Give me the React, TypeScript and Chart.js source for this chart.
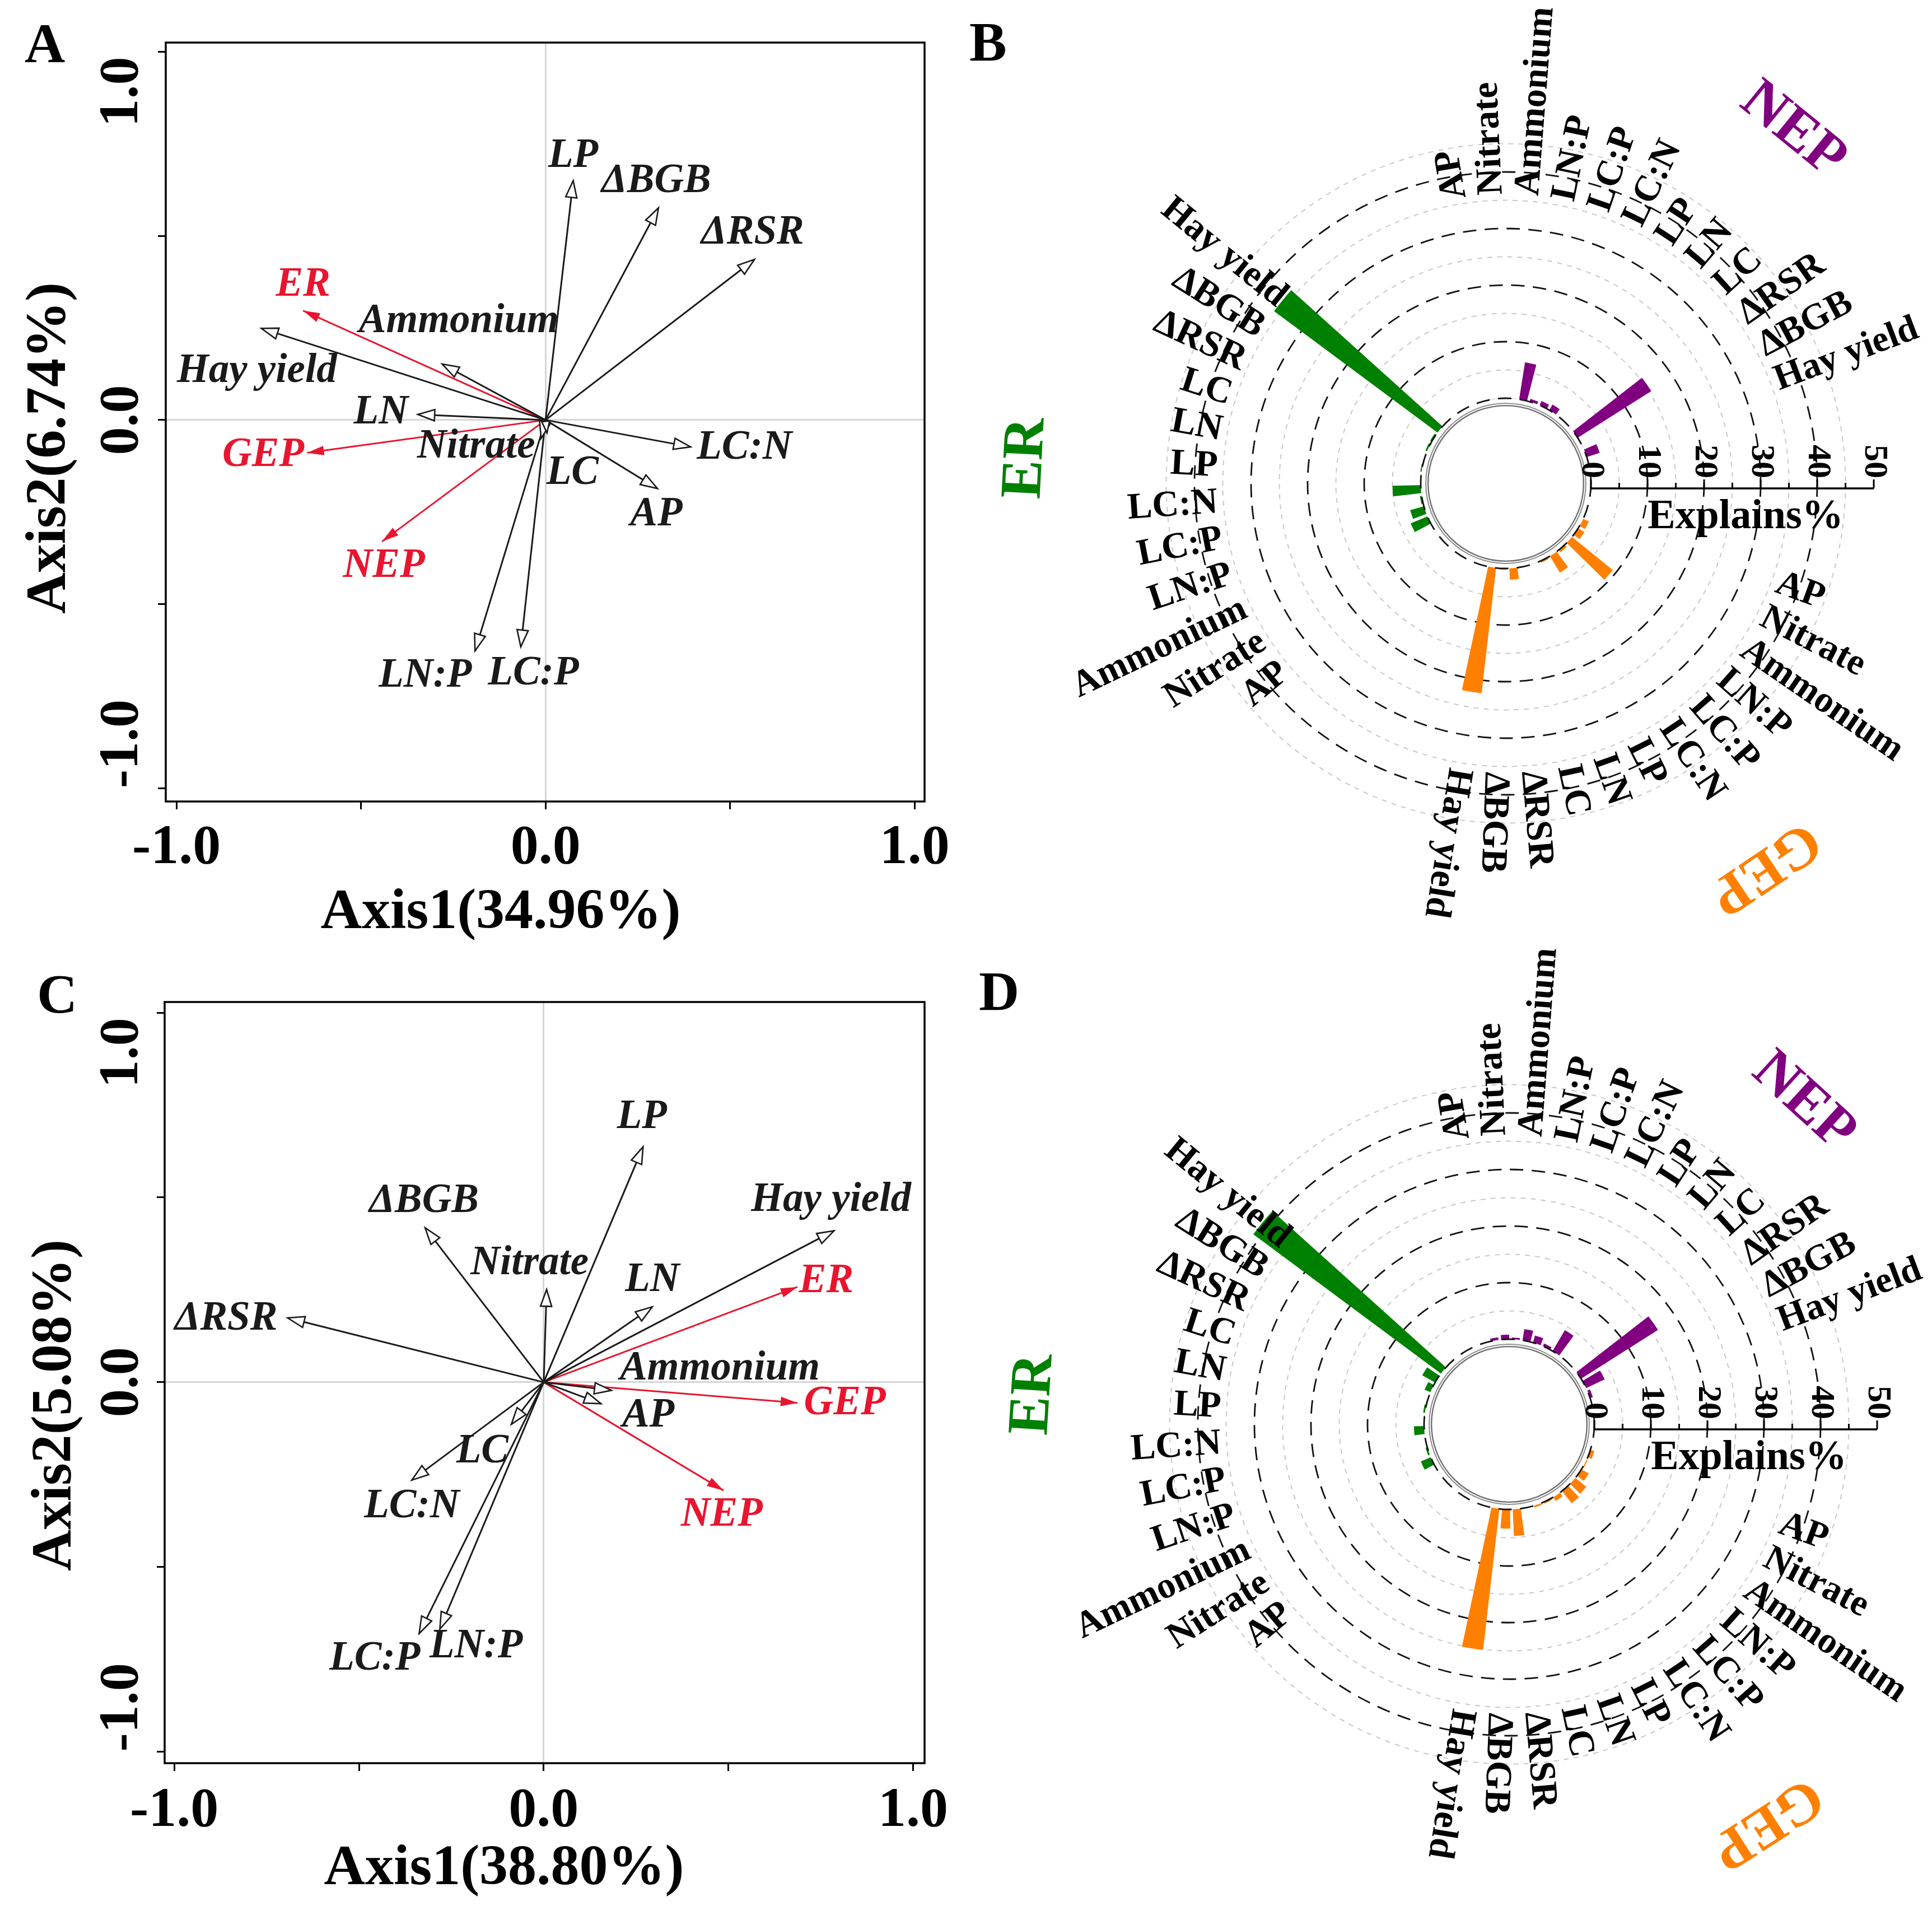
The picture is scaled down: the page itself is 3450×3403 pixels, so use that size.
import React, { useEffect, useRef } from 'react';
import { Chart, registerables } from 'chart.js';

Chart.register(...registerables);

const SERIF = '"Liberation Serif", "Times New Roman", serif';
const RED = '#e8152e';
const INK = '#1a1a1a';

// ---------------- Biplot (A, C) data ----------------
const AXIS_TICK_VALUES = [-1, -0.5, 0, 0.5, 1];
const AXIS_TICK_LABELS = ['-1.0', '', '0.0', '', '1.0'];

const A_ENV_NAMES = ['LP', 'ΔBGB', 'ΔRSR', 'Hay yield', 'Ammonium', 'LN', 'Nitrate', 'LC', 'LC:N', 'AP', 'LN:P', 'LC:P'];
const A_ENV_X = [0.075, 0.306, 0.566, -0.77, -0.28, -0.346, -0.012, 0.004, 0.393, 0.303, -0.191, -0.067];
const A_ENV_Y = [0.65, 0.576, 0.436, 0.249, 0.152, 0.015, -0.05, -0.035, -0.073, -0.186, -0.627, -0.616];
const A_RESP_NAMES = ['ER', 'GEP', 'NEP'];
const A_RESP_X = [-0.657, -0.646, -0.443];
const A_RESP_Y = [0.297, -0.089, -0.33];
const A_TITLES = ['Axis1(34.96%)', 'Axis2(6.74%)'];

const C_ENV_NAMES = ['LP', 'Hay yield', 'ΔBGB', 'Nitrate', 'LN', 'ΔRSR', 'Ammonium', 'AP', 'LC', 'LC:N', 'LC:P', 'LN:P'];
const C_ENV_X = [0.269, 0.786, -0.321, 0.008, 0.294, -0.693, 0.183, 0.155, -0.0875, -0.357, -0.337, -0.281];
const C_ENV_Y = [0.637, 0.41, 0.418, 0.251, 0.204, 0.174, -0.022, -0.058, -0.114, -0.265, -0.68, -0.668];
const C_RESP_NAMES = ['ER', 'GEP', 'NEP'];
const C_RESP_X = [0.687, 0.687, 0.487];
const C_RESP_Y = [0.258, -0.056, -0.293];
const C_TITLES = ['Axis1(38.80%)', 'Axis2(5.08%)'];

// label anchors (layout, data units) in the same order as the names
const A_ENV_LABEL_AT = [[0.075, 0.716], [0.3, 0.647], [0.561, 0.507], [-0.782, 0.132], [-0.235, 0.267], [-0.446, 0.02], [-0.188, -0.074], [0.073, -0.145], [0.539, -0.076], [0.3, -0.257], [-0.326, -0.695], [-0.033, -0.69]];
const A_RESP_LABEL_AT = [[-0.657, 0.366], [-0.765, -0.096], [-0.438, -0.398]];
const C_ENV_LABEL_AT = [[0.266, 0.716], [0.778, 0.492], [-0.324, 0.489], [-0.038, 0.321], [0.294, 0.275], [-0.86, 0.171], [0.477, 0.036], [0.283, -0.091], [-0.166, -0.189], [-0.357, -0.337], [-0.457, -0.749], [-0.183, -0.716]];
const C_RESP_LABEL_AT = [[0.765, 0.272], [0.815, -0.058], [0.482, -0.359]];

// ---------------- Circular (B, D) data ----------------
const VARIABLES = ['AP', 'Nitrate', 'Ammonium', 'LN:P', 'LC:P', 'LC:N', 'LP', 'LN', 'LC', 'ΔRSR', 'ΔBGB', 'Hay yield'];
const GROUPS = ['NEP', 'GEP', 'ER'];
const GROUP_COLORS = ['#800080', '#ff8000', '#008000'];

const B_NEP = [0, 0, 0, 6.6, 0.5, 0.8, 1.15, 0, 0, 15.4, 0, 2.4];
const B_GEP = [0, 1.1, 1.3, 9.3, 0.5, 3.4, 0.3, 0, 0, 2.0, 0.2, 22.3];
const B_ER = [0, 0, 3.2, 2.5, 0.3, 5.0, 0.1, 0.2, 0, 0.3, 0.3, 36.0];

const D_NEP = [0.45, 0.8, 0.3, 2.0, 1.3, 0.5, 4.3, 0, 0, 16.1, 3.6, 0.5];
const D_GEP = [0.75, 0.2, 1.5, 2.5, 2.75, 0.8, 0.3, 0.3, 0, 4.7, 3.4, 25.1];
const D_ER = [0, 0, 1.9, 0.3, 0, 1.8, 0, 0.3, 0, 1.1, 2.6, 41.3];

const RADIAL_TICKS = [0, 10, 20, 30, 40, 50];
const RING_VALUES = [5, 10, 15, 20, 25, 30, 35, 40, 45];

// circular layout
const BAR_DEG = 5.4;
const BAR_GAP_DEG = 1.8;
const GROUP_GAP_DEG = 35.4;
const START_ANGLE = -12.6;
const R_MIN = -15.05;
const R_MAX = 81.98;
const LABEL_RING = 36;
const CANVAS_S = 1960;

// ---------------- Biplot component ----------------
function makeBiplotPlugin(cfg: any) {
  return {
    id: 'biplotDecor',
    afterDatasetsDraw(chart: any) {
      const { ctx, chartArea: ca } = chart;
      const xs = chart.scales.x;
      const ys = chart.scales.y;
      ctx.save();
      const x0 = xs.getPixelForValue(0);
      const y0 = ys.getPixelForValue(0);
      const head = (vx: number, vy: number, color: string, open: boolean) => {
        const x1 = xs.getPixelForValue(vx);
        const y1 = ys.getPixelForValue(vy);
        const dx = x1 - x0;
        const dy = y1 - y0;
        const len = Math.hypot(dx, dy);
        if (len < 1) return;
        const ux = dx / len;
        const uy = dy / len;
        const hl = Math.min(30, len * 0.9);
        const hw = hl * (open ? 10 : 8.5) / 30;
        const bx = x1 - ux * hl;
        const by = y1 - uy * hl;
        ctx.beginPath();
        ctx.moveTo(x1, y1);
        ctx.lineTo(bx - uy * hw, by + ux * hw);
        ctx.lineTo(bx + uy * hw, by - ux * hw);
        ctx.closePath();
        ctx.setLineDash([]);
        if (open) {
          ctx.fillStyle = '#fff';
          ctx.fill();
          ctx.lineWidth = 2.6;
          ctx.strokeStyle = color;
          ctx.lineJoin = 'miter';
          ctx.stroke();
        } else {
          ctx.fillStyle = color;
          ctx.fill();
        }
      };
      cfg.envX.forEach((vx: number, i: number) => head(vx, cfg.envY[i], INK, true));
      cfg.respX.forEach((vx: number, i: number) => head(vx, cfg.respY[i], RED, false));

      ctx.textAlign = 'center';
      ctx.textBaseline = 'middle';
      ctx.font = `italic bold 73px ${SERIF}`;
      ctx.fillStyle = INK;
      cfg.envNames.forEach((n: string, i: number) => {
        const p = cfg.envLabelAt[i];
        ctx.fillText(n, xs.getPixelForValue(p[0]), ys.getPixelForValue(p[1]));
      });
      ctx.fillStyle = RED;
      cfg.respNames.forEach((n: string, i: number) => {
        const p = cfg.respLabelAt[i];
        ctx.fillText(n, xs.getPixelForValue(p[0]), ys.getPixelForValue(p[1]));
      });

      // frame
      ctx.lineWidth = 3.5;
      ctx.strokeStyle = '#000';
      ctx.strokeRect(ca.left, ca.top, ca.right - ca.left, ca.bottom - ca.top);

      // tick labels
      ctx.fillStyle = '#000';
      ctx.font = `bold 100px ${SERIF}`;
      ctx.textBaseline = 'middle';
      AXIS_TICK_VALUES.forEach((v, i) => {
        const lab = AXIS_TICK_LABELS[i];
        if (!lab) return;
        ctx.textAlign = 'center';
        ctx.fillText(lab, xs.getPixelForValue(v), cfg.xTickY);
        const py = ys.getPixelForValue(v);
        ctx.save();
        if (i === AXIS_TICK_VALUES.length - 1) {
          ctx.translate(cfg.yTickX, py + 9);
          ctx.textAlign = 'right';
        } else if (i === 0) {
          ctx.translate(cfg.yTickX, py);
          ctx.textAlign = 'left';
        } else {
          ctx.translate(cfg.yTickX, py);
          ctx.textAlign = 'center';
        }
        ctx.rotate(-Math.PI / 2);
        ctx.fillText(lab, 0, 0);
        ctx.restore();
      });

      // axis titles
      ctx.font = `bold 102px ${SERIF}`;
      ctx.textAlign = 'center';
      ctx.textBaseline = 'alphabetic';
      ctx.fillText(cfg.titles[0], cfg.xTitle[0], cfg.xTitle[1]);
      ctx.save();
      ctx.translate(cfg.yTitle[0], cfg.yTitle[1]);
      ctx.rotate(-Math.PI / 2);
      ctx.textBaseline = 'middle';
      ctx.fillText(cfg.titles[1], 0, 0);
      ctx.restore();

      // panel letter
      ctx.font = `bold 100px ${SERIF}`;
      ctx.textAlign = 'left';
      ctx.textBaseline = 'alphabetic';
      ctx.fillText(cfg.letter, cfg.letterPos[0], cfg.letterPos[1]);
      ctx.restore();
    },
  };
}

function BiplotPanel({ cfg }: { cfg: any }) {
  const ref = useRef<HTMLCanvasElement | null>(null);
  useEffect(() => {
    if (!ref.current) return;
    const datasets = [
      ...cfg.envNames.map((n: string, i: number) => ({
        label: n,
        data: [{ x: 0, y: 0 }, { x: cfg.envX[i], y: cfg.envY[i] }],
        showLine: true,
        borderColor: INK,
        borderWidth: 3,
        pointRadius: 0,
        pointHoverRadius: 0,
        fill: false,
      })),
      ...cfg.respNames.map((n: string, i: number) => ({
        label: n,
        data: [{ x: 0, y: 0 }, { x: cfg.respX[i], y: cfg.respY[i] }],
        showLine: true,
        borderColor: RED,
        borderWidth: 3,
        pointRadius: 0,
        pointHoverRadius: 0,
        fill: false,
      })),
    ];
    const gridOpts = {
      color: (c: any) => (c.tick && Math.abs(c.tick.value) < 1e-9 ? '#d6d6d6' : 'rgba(0,0,0,0)'),
      lineWidth: 3,
      tickColor: '#000',
      tickWidth: 3,
      tickLength: 14,
      drawOnChartArea: true,
      drawTicks: true,
    };
    const setTicks = (s: any) => {
      s.ticks = AXIS_TICK_VALUES.map((v) => ({ value: v }));
    };
    const chart = new Chart(ref.current, {
      type: 'scatter',
      data: { datasets },
      options: {
        responsive: false,
        animation: false,
        devicePixelRatio: 1,
        layout: {
          padding: {
            left: 0,
            top: cfg.area.top,
            right: cfg.width - cfg.area.right,
            bottom: 0,
          },
        },
        plugins: { legend: { display: false }, tooltip: { enabled: false } },
        scales: {
          x: {
            type: 'linear',
            min: cfg.xRange[0],
            max: cfg.xRange[1],
            afterBuildTicks: setTicks,
            afterFit: (s: any) => {
              s.height = cfg.height - cfg.area.bottom;
            },
            ticks: { display: false },
            grid: gridOpts,
            border: { display: false },
          },
          y: {
            type: 'linear',
            min: cfg.yRange[0],
            max: cfg.yRange[1],
            afterBuildTicks: setTicks,
            afterFit: (s: any) => {
              s.width = cfg.area.left;
            },
            ticks: { display: false },
            grid: gridOpts,
            border: { display: false },
          },
        },
      } as any,
      plugins: [makeBiplotPlugin(cfg)],
    });
    return () => chart.destroy();
  }, [cfg]);
  return (
    <canvas
      ref={ref}
      width={cfg.width}
      height={cfg.height}
      style={{ position: 'absolute', left: cfg.left, top: cfg.top, width: cfg.width, height: cfg.height }}
    />
  );
}

// ---------------- Circular component ----------------
function buildSlices(series: number[][]) {
  const values: number[] = [];
  const colors: string[] = [];
  const angles: number[] = [];
  const labels: string[] = [];
  const info: any[] = [];
  series.forEach((vals, g) => {
    vals.forEach((v, k) => {
      values.push(v);
      colors.push(GROUP_COLORS[g]);
      angles.push(BAR_DEG);
      labels.push(`${GROUPS[g]} ${VARIABLES[k]}`);
      info.push({ g, k });
      const gap = k < vals.length - 1 ? BAR_GAP_DEG : GROUP_GAP_DEG;
      values.push(R_MIN);
      colors.push('rgba(0,0,0,0)');
      angles.push(gap);
      labels.push('');
      info.push(null);
    });
  });
  return { values, colors, angles, labels, info };
}

function makeCircularPlugin(cfg: any, info: any[]) {
  return {
    id: 'circularDecor',
    beforeDatasetsDraw(chart: any) {
      const r = chart.scales.r;
      const ctx = chart.ctx;
      const cx = r.xCenter;
      const cy = r.yCenter;
      ctx.save();
      RING_VALUES.forEach((v) => {
        const major = v % 10 === 0;
        ctx.beginPath();
        ctx.setLineDash(major ? [24, 15] : [9, 9]);
        ctx.strokeStyle = major ? '#111' : '#c9c9c9';
        ctx.lineWidth = major ? 2.8 : 2;
        ctx.arc(cx, cy, r.getDistanceFromCenterForValue(v), 0, Math.PI * 2);
        ctx.stroke();
      });
      ctx.restore();
    },
    afterDatasetsDraw(chart: any) {
      const r = chart.scales.r;
      const ctx = chart.ctx;
      const cx = r.xCenter;
      const cy = r.yCenter;
      const r0 = r.getDistanceFromCenterForValue(0);
      ctx.save();
      // hollow centre
      ctx.beginPath();
      ctx.fillStyle = '#fff';
      ctx.arc(cx, cy, r0, 0, Math.PI * 2);
      ctx.fill();
      ctx.setLineDash([]);
      ctx.beginPath();
      ctx.strokeStyle = '#8a8a8a';
      ctx.lineWidth = 2;
      ctx.arc(cx, cy, r.getDistanceFromCenterForValue(-0.9), 0, Math.PI * 2);
      ctx.stroke();
      ctx.beginPath();
      ctx.strokeStyle = '#6f6f6f';
      ctx.lineWidth = 2.4;
      ctx.arc(cx, cy, r.getDistanceFromCenterForValue(-1.3), 0, Math.PI * 2);
      ctx.stroke();
      ctx.beginPath();
      ctx.setLineDash([24, 15]);
      ctx.strokeStyle = '#111';
      ctx.lineWidth = 2.8;
      ctx.arc(cx, cy, r0, 0, Math.PI * 2);
      ctx.stroke();
      ctx.setLineDash([]);

      // radial axis
      const ay = cy + 9;
      const xa = (v: number) => cx + r.getDistanceFromCenterForValue(v);
      ctx.strokeStyle = '#000';
      ctx.lineWidth = 3.5;
      ctx.beginPath();
      ctx.moveTo(xa(RADIAL_TICKS[0]), ay);
      ctx.lineTo(xa(RADIAL_TICKS[RADIAL_TICKS.length - 1]), ay);
      ctx.stroke();
      ctx.lineWidth = 3;
      for (let i = 0; i < RADIAL_TICKS.length; i++) {
        const v = RADIAL_TICKS[i];
        ctx.beginPath();
        ctx.moveTo(xa(v), ay);
        ctx.lineTo(xa(v), ay - 16);
        ctx.stroke();
        if (i < RADIAL_TICKS.length - 1) {
          const m = (v + RADIAL_TICKS[i + 1]) / 2;
          ctx.beginPath();
          ctx.moveTo(xa(m), ay);
          ctx.lineTo(xa(m), ay - 10);
          ctx.stroke();
        }
      }
      ctx.fillStyle = '#000';
      ctx.font = `bold 60px ${SERIF}`;
      ctx.textBaseline = 'middle';
      ctx.textAlign = 'right';
      RADIAL_TICKS.forEach((v) => {
        ctx.save();
        ctx.translate(xa(v), ay - 18);
        ctx.rotate(Math.PI / 2);
        ctx.fillText(String(v), 0, 0);
        ctx.restore();
      });
      ctx.font = `bold 74px ${SERIF}`;
      ctx.textAlign = 'center';
      ctx.textBaseline = 'alphabetic';
      ctx.fillText('Explains%', cx + 428, cy + 80);

      // variable labels
      const meta = chart.getDatasetMeta(0);
      const rl = r.getDistanceFromCenterForValue(LABEL_RING);
      ctx.font = `bold 66px ${SERIF}`;
      ctx.textBaseline = 'middle';
      meta.data.forEach((arc: any, i: number) => {
        const inf = info[i];
        if (!inf) return;
        const phi = (arc.startAngle + arc.endAngle) / 2;
        ctx.save();
        ctx.translate(cx + rl * Math.cos(phi), cy + rl * Math.sin(phi));
        if (Math.cos(phi) < -0.5) {
          ctx.rotate(phi + Math.PI);
          ctx.textAlign = 'right';
        } else {
          ctx.rotate(phi);
          ctx.textAlign = 'left';
        }
        ctx.fillText(VARIABLES[inf.k], 0, 0);
        ctx.restore();
      });

      // group titles
      ctx.font = `bold 104px ${SERIF}`;
      ctx.textAlign = 'center';
      ctx.textBaseline = 'middle';
      cfg.titles.forEach((t: any, g: number) => {
        const phi = (-t.theta * Math.PI) / 180;
        ctx.save();
        ctx.translate(cx + t.r * Math.cos(phi), cy + t.r * Math.sin(phi));
        ctx.rotate(phi + Math.PI / 2);
        ctx.fillStyle = GROUP_COLORS[g];
        ctx.fillText(GROUPS[g], 0, 0);
        ctx.restore();
      });

      // panel letter
      ctx.fillStyle = '#000';
      ctx.font = `bold 100px ${SERIF}`;
      ctx.textAlign = 'left';
      ctx.textBaseline = 'alphabetic';
      ctx.fillText(cfg.letter, cfg.letterPos[0], cfg.letterPos[1]);
      ctx.restore();
    },
  };
}

function CircularPanel({ cfg }: { cfg: any }) {
  const ref = useRef<HTMLCanvasElement | null>(null);
  useEffect(() => {
    if (!ref.current) return;
    const sl = buildSlices(cfg.series);
    const chart = new Chart(ref.current, {
      type: 'polarArea',
      data: {
        labels: sl.labels,
        datasets: [
          {
            label: 'Explains%',
            data: sl.values,
            backgroundColor: sl.colors,
            borderWidth: 0,
            angle: sl.angles,
          } as any,
        ],
      },
      options: {
        responsive: false,
        animation: false,
        devicePixelRatio: 1,
        layout: { padding: 0 },
        plugins: { legend: { display: false }, tooltip: { enabled: false } },
        scales: {
          r: {
            type: 'radialLinear',
            min: R_MIN,
            max: R_MAX,
            startAngle: START_ANGLE,
            beginAtZero: false,
            ticks: { display: false },
            grid: { display: false },
            angleLines: { display: false },
            pointLabels: { display: false },
          },
        },
      } as any,
      plugins: [makeCircularPlugin(cfg, sl.info)],
    });
    return () => chart.destroy();
  }, [cfg]);
  return (
    <canvas
      ref={ref}
      width={CANVAS_S}
      height={CANVAS_S}
      style={{ position: 'absolute', left: cfg.left, top: cfg.top, width: CANVAS_S, height: CANVAS_S }}
    />
  );
}

// ---------------- panel configs ----------------
const PANEL_A = {
  letter: 'A', left: 0, top: 0, width: 1720, height: 1700,
  area: { left: 296, top: 76, right: 1651, bottom: 1431 },
  xRange: [-1.029, 1.027], yRange: [-1.036, 1.025],
  envNames: A_ENV_NAMES, envX: A_ENV_X, envY: A_ENV_Y, envLabelAt: A_ENV_LABEL_AT,
  respNames: A_RESP_NAMES, respX: A_RESP_X, respY: A_RESP_Y, respLabelAt: A_RESP_LABEL_AT,
  titles: A_TITLES,
  letterPos: [44, 111], xTitle: [894, 1657], yTitle: [90, 800], xTickY: 1515, yTickX: 219,
};
const PANEL_C = {
  letter: 'C', left: 0, top: 1713, width: 1720, height: 1690,
  area: { left: 294, top: 76, right: 1651, bottom: 1435 },
  xRange: [-1.026, 1.031], yRange: [-1.031, 1.029],
  envNames: C_ENV_NAMES, envX: C_ENV_X, envY: C_ENV_Y, envLabelAt: C_ENV_LABEL_AT,
  respNames: C_RESP_NAMES, respX: C_RESP_X, respY: C_RESP_Y, respLabelAt: C_RESP_LABEL_AT,
  titles: C_TITLES,
  letterPos: [66, 95], xTitle: [900, 1651], yTitle: [100, 796], xTickY: 1521, yTickX: 219,
};
const PANEL_B = {
  letter: 'B', left: 1709, top: -117, letterPos: [22, 225],
  series: [B_NEP, B_GEP, B_ER],
  titles: [{ r: 812, theta: 50.9 }, { r: 825, theta: -56 }, { r: 857, theta: 177 }],
};
const PANEL_D = {
  letter: 'D', left: 1715, top: 1563, letterPos: [33, 240],
  series: [D_NEP, D_GEP, D_ER],
  titles: [{ r: 779, theta: 47.6 }, { r: 845, theta: -57.1 }, { r: 850, theta: 176.4 }],
};

export default function App() {
  return (
    <div style={{ position: 'fixed', left: 0, top: 0, width: 3450, height: 3403, overflow: 'hidden', background: '#fff' }}>
      <BiplotPanel cfg={PANEL_A} />
      <CircularPanel cfg={PANEL_B} />
      <BiplotPanel cfg={PANEL_C} />
      <CircularPanel cfg={PANEL_D} />
    </div>
  );
}
